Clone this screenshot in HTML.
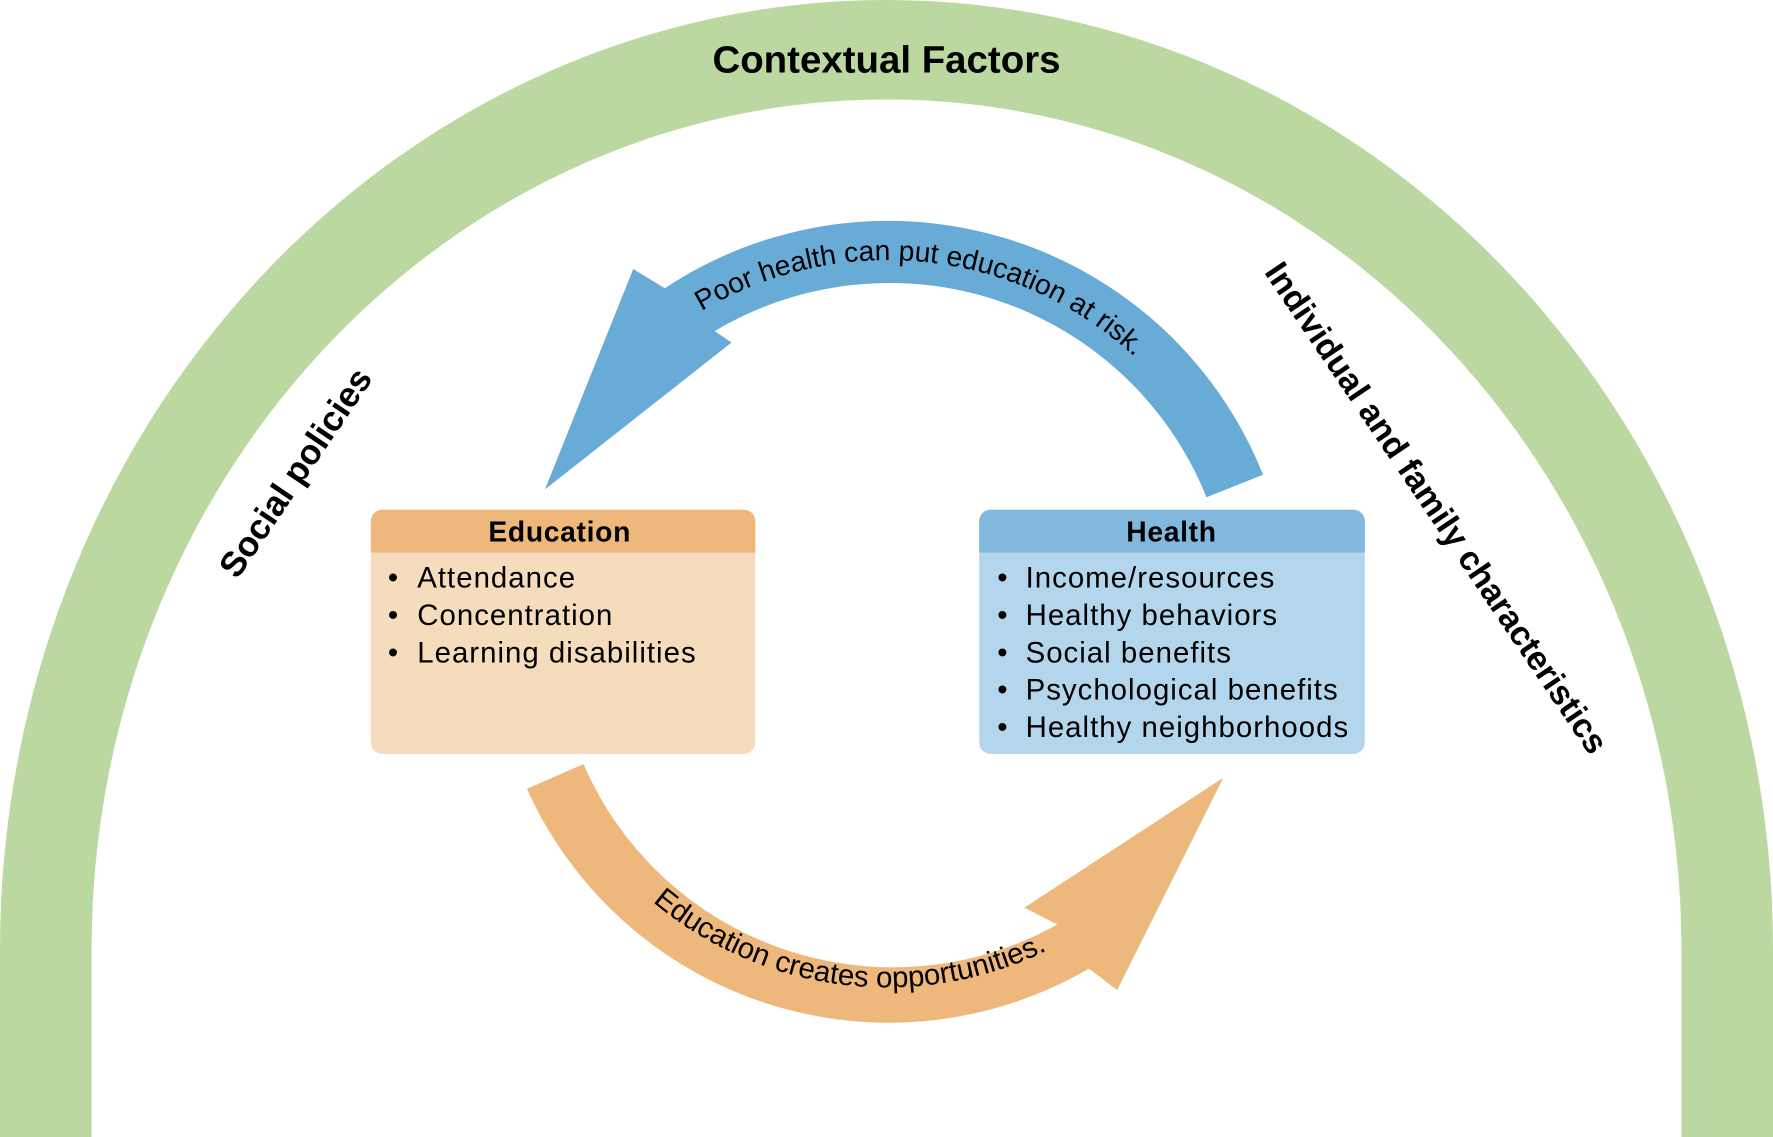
<!DOCTYPE html>
<html>
<head>
<meta charset="utf-8">
<style>
html,body{margin:0;padding:0;background:#fff;}
svg{display:block;}
text{font-family:"Liberation Sans","DejaVu Sans",sans-serif;}
</style>
</head>
<body>
<svg width="1773" height="1137" viewBox="0 0 1568 1006" preserveAspectRatio="none">
  <defs>
    <path id="blue-text-path" d="M498,406 A322,322 0 0 1 1096,469"/>
    <path id="orange-text-path" d="M506,713 A322,322 0 0 0 1024,767"/>
  </defs>
  <path fill="#bbd8a0"
    d="M0,1006 L0,840 A784,840 0 0 1 1568,840 L1568,1006 L1487,1006 L1487,840 A703,752 0 0 0 81,840 L81,1006 Z"/>
  <text x="784" y="64" text-anchor="middle" font-size="34" font-weight="bold" fill="#000">Contextual Factors</text>
  <text transform="translate(270,424) rotate(-56)" text-anchor="middle" font-size="31" font-weight="bold" fill="#000">Social policies</text>
  <text transform="translate(1262,455) rotate(56)" text-anchor="middle" font-size="30" font-weight="bold" fill="#000">Individual and family characteristics</text>

  <path fill="#67abd6"
    d="M1117,420 A357,357 0 0 0 588,255 L560,238 L482,433 L647,303 L632,293 A302,302 0 0 1 1067,440 Z"/>
  <text font-size="25" fill="#000">
    <textPath href="#blue-text-path" startOffset="50%" text-anchor="middle">Poor health can put education at risk.</textPath>
  </text>

  <path fill="#eeb87c"
    d="M466,698 A351,351 0 0 0 963,857 L988,876 L1082,688 L906,803 L935,818 A298,298 0 0 1 516,676 Z"/>
  <text font-size="26" fill="#000">
    <textPath href="#orange-text-path" startOffset="49%" text-anchor="middle">Education creates opportunities.</textPath>
  </text>

  <g>
    <rect x="328" y="451" width="340" height="216" rx="10" fill="#f5dcbd"/>
    <path d="M328,489 L328,461 A10,10 0 0 1 338,451 L658,451 A10,10 0 0 1 668,461 L668,489 Z" fill="#eeb87c"/>
    <text x="495" y="479" text-anchor="middle" font-size="25" font-weight="bold" letter-spacing="0.6">Education</text>
    <g font-size="26" fill="#000" letter-spacing="0.9">
      <text x="343" y="520">•<tspan x="369">Attendance</tspan></text>
      <text x="343" y="553">•<tspan x="369">Concentration</tspan></text>
      <text x="343" y="586">•<tspan x="369">Learning disabilities</tspan></text>
    </g>
  </g>

  <g>
    <rect x="866" y="451" width="341" height="216" rx="10" fill="#b3d6ec"/>
    <path d="M866,489 L866,461 A10,10 0 0 1 876,451 L1197,451 A10,10 0 0 1 1207,461 L1207,489 Z" fill="#82b8de"/>
    <text x="1036" y="479" text-anchor="middle" font-size="25" font-weight="bold" letter-spacing="0.6">Health</text>
    <g font-size="26" fill="#000" letter-spacing="0.9">
      <text x="882" y="520">•<tspan x="907">Income/resources</tspan></text>
      <text x="882" y="553">•<tspan x="907">Healthy behaviors</tspan></text>
      <text x="882" y="586">•<tspan x="907">Social benefits</tspan></text>
      <text x="882" y="619">•<tspan x="907">Psychological benefits</tspan></text>
      <text x="882" y="652">•<tspan x="907">Healthy neighborhoods</tspan></text>
    </g>
  </g>
</svg>
</body>
</html>
